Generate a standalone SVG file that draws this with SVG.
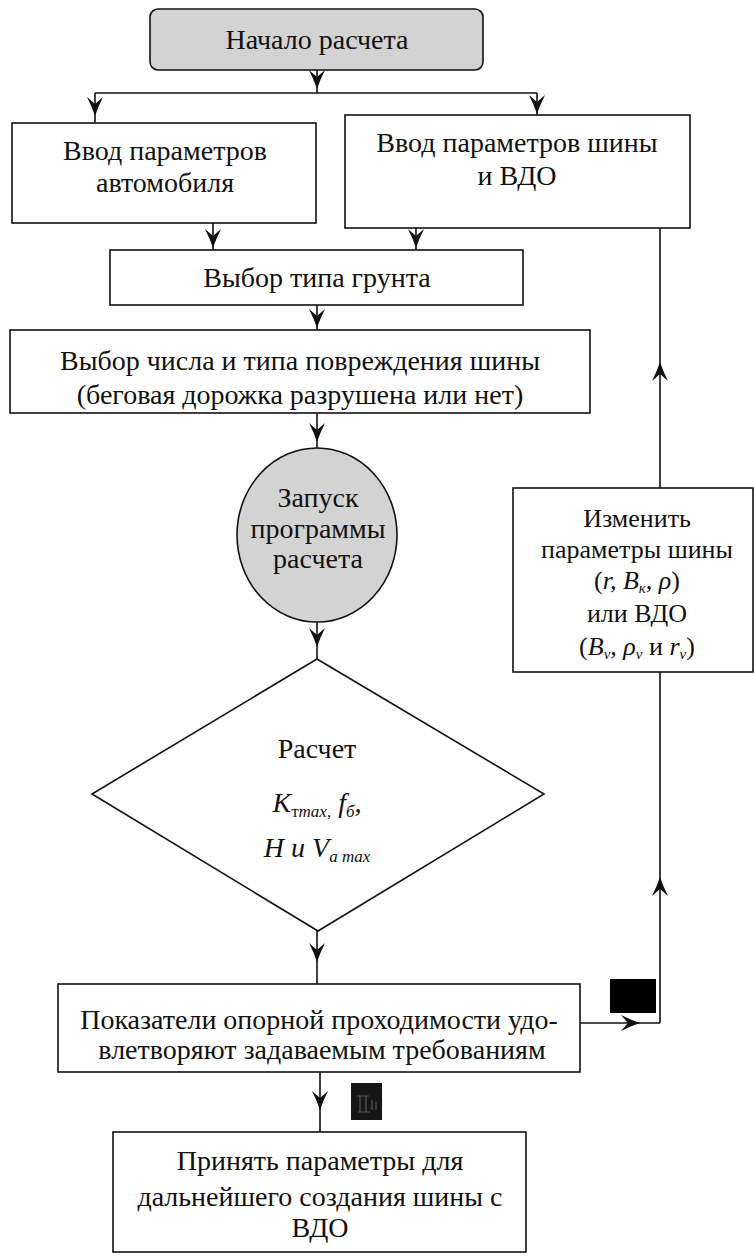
<svg xmlns="http://www.w3.org/2000/svg" width="754" height="1256" viewBox="0 0 754 1256">
<style>
.box{fill:#fff;stroke:#111;stroke-width:1.6}
.gray{fill:#d3d3d3;stroke:#111;stroke-width:1.6}
.t{font-family:"Liberation Serif","Times New Roman",serif;font-size:28px;fill:#111;text-anchor:middle}
.r{font-size:26px}
.i{font-style:italic}
.s{font-size:17px}
.ss{font-size:15px}
.c{fill:none;stroke:#111;stroke-width:1.6}
</style>
<defs>
<marker id="ah" markerUnits="userSpaceOnUse" viewBox="-20 -9 21 18" markerWidth="21" markerHeight="18" refX="0" refY="0" orient="auto">
<path d="M0,0 Q-9,-3 -19,-8 L-12,0 L-19,8 Q-9,3 0,0 z" fill="#111"/>
</marker>
</defs>
<rect width="754" height="1256" fill="#fff"/>

<g id="connectors">
<path class="c" d="M317,70 L317,89 L317,93" marker-mid="url(#ah)"/>
<path class="c" d="M95,93 L537,93"/>
<path class="c" d="M95,93 L95,116 L95,123" marker-mid="url(#ah)"/>
<path class="c" d="M537,93 L537,114 L537,115" marker-mid="url(#ah)"/>
<path class="c" d="M213,223 L213,248 L213,250" marker-mid="url(#ah)"/>
<path class="c" d="M416,228 L416,248 L416,250" marker-mid="url(#ah)"/>
<path class="c" d="M317,305 L317,328 L317,330" marker-mid="url(#ah)"/>
<path class="c" d="M317,413 L317,442 L317,449" marker-mid="url(#ah)"/>
<path class="c" d="M317,622 L317,647 L317,659" marker-mid="url(#ah)"/>
<path class="c" d="M317,931 L317,962 L317,984" marker-mid="url(#ah)"/>
<path class="c" d="M320,1072 L320,1110 L320,1132" marker-mid="url(#ah)"/>
<path class="c" d="M580,1023 L640,1023 L660,1023" marker-mid="url(#ah)"/>
<path class="c" d="M660,1023 L660,877 L660,672" marker-mid="url(#ah)"/>
<path class="c" d="M660,488 L660,362 L660,228" marker-mid="url(#ah)"/>
</g>

<g id="start">
<rect class="gray" x="150" y="9" width="333" height="61" rx="8"/>
<text class="t" x="317" y="49">Начало расчета</text>
</g>

<g id="input-car">
<rect class="box" x="12" y="123" width="304" height="100"/>
<text class="t" x="165" y="160">Ввод параметров</text>
<text class="t" x="165" y="192">автомобиля</text>
</g>

<g id="input-tire">
<rect class="box" x="345" y="115" width="345" height="113"/>
<text class="t" x="517" y="152">Ввод параметров шины</text>
<text class="t" x="517" y="185">и ВДО</text>
</g>

<g id="soil">
<rect class="box" x="110" y="250" width="413" height="55"/>
<text class="t" x="317" y="287">Выбор типа грунта</text>
</g>

<g id="damage">
<rect class="box" x="10" y="330" width="580" height="83"/>
<text class="t" x="300" y="370">Выбор числа и типа повреждения шины</text>
<text class="t" x="300" y="404">(беговая дорожка разрушена или нет)</text>
</g>

<g id="launch">
<ellipse class="gray" cx="317" cy="535" rx="80" ry="87"/>
<text class="t" x="318" y="507">Запуск</text>
<text class="t" x="318" y="538">программы</text>
<text class="t" x="318" y="568">расчета</text>
</g>

<g id="calc">
<polygon class="box" points="317,659 544,794 318,931 92,794"/>
<text class="t" x="317" y="758">Расчет</text>
<text class="t" x="317" y="812"><tspan class="i">K</tspan><tspan class="s" dy="5">т</tspan><tspan class="s i">max,</tspan><tspan dy="-5" class="i"> f</tspan><tspan class="s i" dy="5">б</tspan><tspan dy="-5" class="i">,</tspan></text>
<text class="t" x="317" y="857"><tspan class="i">H и  V</tspan><tspan class="s i" dy="5">a max</tspan></text>
</g>

<g id="check">
<rect class="box" x="58" y="984" width="522" height="88"/>
<text class="t" x="319" y="1029">Показатели опорной проходимости удо-</text>
<text class="t" x="322" y="1059">влетворяют задаваемым требованиям</text>
</g>

<g id="change">
<rect class="box" x="513" y="488" width="240" height="184"/>
<text class="t r" x="637" y="527">Изменить</text>
<text class="t r" x="637" y="558">параметры шины</text>
<text class="t r" x="637" y="589">(<tspan class="i">r, B</tspan><tspan class="ss i" dy="4">к</tspan><tspan dy="-4" class="i">, ρ</tspan>)</text>
<text class="t r" x="637" y="622">или ВДО</text>
<text class="t r" x="637" y="655">(<tspan class="i">B</tspan><tspan class="ss i" dy="4">v</tspan><tspan dy="-4">, </tspan><tspan class="i">ρ</tspan><tspan class="ss i" dy="4">v</tspan><tspan dy="-4"> и </tspan><tspan class="i">r</tspan><tspan class="ss i" dy="4">v</tspan><tspan dy="-4">)</tspan></text>
</g>

<g id="accept">
<rect class="box" x="113" y="1132" width="413" height="120"/>
<text class="t" x="320" y="1170">Принять параметры для</text>
<text class="t" x="320" y="1206">дальнейшего создания шины с</text>
<text class="t" x="320" y="1237">ВДО</text>
</g>

<g id="marks">
<rect x="610" y="979" width="46" height="34" fill="#000"/>
<rect x="351" y="1083" width="31" height="37" fill="#161616"/>
<path d="M357,1096 h12 M358,1112 h12 M360,1096 v16 M366,1096 v16 M372,1100 v10 M376,1102 v8" stroke="#555" stroke-width="1.2" fill="none"/>
</g>
</svg>
